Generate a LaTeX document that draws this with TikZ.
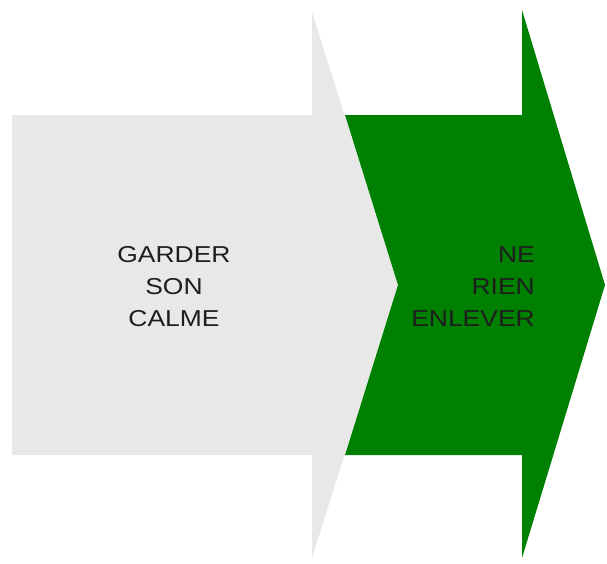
\documentclass[tikz,border=0pt]{standalone}
\usepackage{fontspec}
\setmainfont{Liberation Sans}
\usepackage{tikz}
\usetikzlibrary{positioning}
\definecolor{cGry}{HTML}{E8E8E8}
\definecolor{cGrn}{HTML}{008000}
\definecolor{cTxt}{HTML}{1E1E1E}
\tikzset{
  sarr/.style={draw=none, fill=#1},
  slbl/.style={align=#1, inner sep=0pt, text=cTxt, xscale=1.15, transform shape,
               font=\fontsize{23}{32}\selectfont},
}

\begin{document}
\begin{tikzpicture}[x=1pt, y=-1pt]
\useasboundingbox (0,0) rectangle (607,563);
% grey step
\path[sarr=cGry] (12,115) -- (312,115) -- (312,12) -- (398,285) -- (312,558)
  -- (312,455) -- (12,455) -- cycle;
% green step
\path[sarr=cGrn] (345,115) -- (522,115) -- (522,10) -- (605,285) -- (522,558)
  -- (522,455) -- (345,455) -- (398,285) -- cycle;
\node[slbl=center] (calme) at (174,287) {GARDER\\SON\\CALME};
\node[slbl=right, anchor=east] (rien) at (535,287) {NE\\RIEN\\ENLEVER};
\end{tikzpicture}
\end{document}
